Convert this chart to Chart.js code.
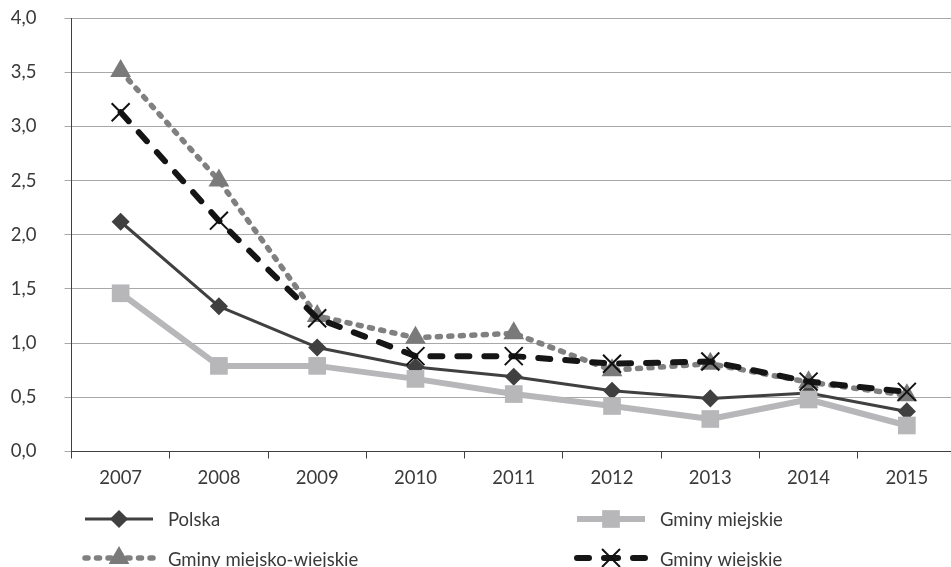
<!DOCTYPE html>
<html>
<head>
<meta charset="utf-8">
<script src="https://cdn.jsdelivr.net/npm/chart.js@4/dist/chart.umd.min.js"></script>
<style>
  html, body { margin: 0; padding: 0; overflow: hidden; background: #ffffff; }
  #wrap { position: relative; width: 958px; height: 567px; }
</style>
</head>
<body>
<div id="wrap"><canvas id="chart"></canvas></div>
<script>
// Years on the horizontal axis
const years = ['2007', '2008', '2009', '2010', '2011', '2012', '2013', '2014', '2015'];

// Series values
const polska = [2.12, 1.34, 0.96, 0.78, 0.69, 0.56, 0.49, 0.54, 0.37];
const gminyMiejskie = [1.46, 0.79, 0.79, 0.67, 0.53, 0.42, 0.30, 0.48, 0.24];
const gminyMiejskoWiejskie = [3.51, 2.50, 1.25, 1.05, 1.09, 0.75, 0.81, 0.64, 0.52];
const gminyWiejskie = [3.13, 2.13, 1.23, 0.88, 0.88, 0.81, 0.83, 0.645, 0.55];

// Series names
const seriesNames = ['Polska', 'Gminy miejskie', 'Gminy miejsko-wiejskie', 'Gminy wiejskie'];

// Value axis tick labels (Polish decimal comma)
const yTickLabels = ['0,0', '0,5', '1,0', '1,5', '2,0', '2,5', '3,0', '3,5', '4,0'];

const FONT = 'Lato';
const FONT_SIZE = 18.5;
const TEXT_COLOR = '#3a3a3a';
const GRID_COLOR = '#a8a8a8';
const AXIS_COLOR = '#404040';

function drawMarker(ctx, style, x, y, r, fill, stroke, bw) {
  ctx.save();
  ctx.setLineDash([]);
  ctx.fillStyle = fill;
  ctx.strokeStyle = stroke;
  ctx.lineWidth = bw;
  ctx.lineJoin = 'miter';
  ctx.beginPath();
  if (style === 'rectRot') {
    ctx.moveTo(x, y - r); ctx.lineTo(x + r, y); ctx.lineTo(x, y + r); ctx.lineTo(x - r, y);
    ctx.closePath(); ctx.fill(); if (bw) ctx.stroke();
  } else if (style === 'rect') {
    const s = r * Math.SQRT1_2;
    ctx.rect(x - s, y - s, 2 * s, 2 * s); ctx.fill(); if (bw) ctx.stroke();
  } else if (style === 'triangle') {
    ctx.moveTo(x, y - r); ctx.lineTo(x + 0.866 * r, y + 0.5 * r); ctx.lineTo(x - 0.866 * r, y + 0.5 * r);
    ctx.closePath(); ctx.fill(); if (bw) ctx.stroke();
  } else if (style === 'crossRot') {
    const s = r * Math.SQRT1_2;
    ctx.moveTo(x - s, y - s); ctx.lineTo(x + s, y + s);
    ctx.moveTo(x + s, y - s); ctx.lineTo(x - s, y + s);
    ctx.stroke();
  }
  ctx.restore();
}

// Two-column legend under the plot
const gridLegend = {
  id: 'gridLegend',
  afterDraw(chart) {
    const ctx = chart.ctx;
    const colX = [85, 577];
    const rowY = [519, 558];
    const rowBase = [526, 566];
    const sampleW = 68;
    chart.data.datasets.forEach((ds, i) => {
      const col = i % 2, row = Math.floor(i / 2);
      const x0 = colX[col], x1 = x0 + sampleW, cx = (x0 + x1) / 2, y = rowY[row];
      ctx.save();
      ctx.strokeStyle = ds.borderColor;
      ctx.lineWidth = ds.borderWidth;
      ctx.lineCap = ds.borderCapStyle || 'butt';
      ctx.setLineDash(ds.borderDash || []);
      ctx.beginPath(); ctx.moveTo(x0, y); ctx.lineTo(cx, y); ctx.stroke();
      ctx.beginPath(); ctx.moveTo(x1, y); ctx.lineTo(cx, y); ctx.stroke();
      ctx.restore();
      drawMarker(ctx, ds.pointStyle, cx, y, ds.pointRadius, ds.pointBackgroundColor, ds.pointBorderColor, ds.pointBorderWidth);
      ctx.save();
      ctx.fillStyle = TEXT_COLOR;
      ctx.font = FONT_SIZE + 'px ' + FONT;
      ctx.textBaseline = 'alphabetic';
      ctx.textAlign = 'left';
      ctx.fillText(ds.label, x1 + 15, rowBase[row]);
      ctx.restore();
    });
  }
};

const datasets = [
  {
    label: seriesNames[0], data: polska, order: 4,
    borderColor: '#404040', borderWidth: 3,
    pointStyle: 'rectRot', pointRadius: 8, pointBorderWidth: 1.5,
    pointBackgroundColor: '#404040', pointBorderColor: '#404040'
  },
  {
    label: seriesNames[1], data: gminyMiejskie, order: 3,
    borderColor: '#b7b7ba', borderWidth: 6,
    pointStyle: 'rect', pointRadius: 12.5, pointBorderWidth: 0,
    pointBackgroundColor: '#b7b7ba', pointBorderColor: '#b7b7ba'
  },
  {
    label: seriesNames[2], data: gminyMiejskoWiejskie, order: 2,
    borderColor: '#808080', borderWidth: 5.5, borderDash: [3, 8.5], borderCapStyle: 'round',
    pointStyle: 'triangle', pointRadius: 12, pointBorderWidth: 0,
    pointBackgroundColor: '#7a7a7a', pointBorderColor: '#7a7a7a'
  },
  {
    label: seriesNames[3], data: gminyWiejskie, order: 1,
    borderColor: '#151515', borderWidth: 6, borderDash: [12, 15], borderCapStyle: 'round',
    pointStyle: 'crossRot', pointRadius: 12.7, pointBorderWidth: 2,
    pointBackgroundColor: '#111111', pointBorderColor: '#111111'
  }
];
datasets.forEach(d => {
  d.fill = false; d.tension = 0; d.borderJoinStyle = 'round';
  d.pointHoverRadius = d.pointRadius;
  d.clip = false;
});

new Chart(document.getElementById('chart'), {
  type: 'line',
  data: { labels: years, datasets },
  plugins: [gridLegend],
  options: {
    responsive: true,
    maintainAspectRatio: false,
    animation: false,
    events: [],
    layout: { autoPadding: false, padding: { top: 18, right: 2, left: 0, bottom: 0 } },
    plugins: { legend: { display: false }, title: { display: false }, tooltip: { enabled: false } },
    scales: {
      x: {
        type: 'category',
        offset: true,
        afterFit(scale) { scale.height = 115.5; },
        grid: { offset: true, drawOnChartArea: false, drawTicks: true, tickLength: 7, color: AXIS_COLOR, lineWidth: 1 },
        border: { display: true, color: AXIS_COLOR, width: 1 },
        ticks: { color: TEXT_COLOR, font: { family: FONT, size: FONT_SIZE }, padding: 8, maxRotation: 0, autoSkip: false }
      },
      y: {
        min: 0, max: 4,
        afterFit(scale) {
          scale.width = 71.5;
          scale.paddingTop = 0;
          scale.paddingBottom = 0;
        },
        grid: {
          color: (c) => (c.tick && c.tick.value === 0 ? 'rgba(0,0,0,0)' : GRID_COLOR),
          tickColor: GRID_COLOR, tickLength: 7, lineWidth: 1
        },
        border: { display: true, color: AXIS_COLOR, width: 1 },
        ticks: {
          stepSize: 0.5, color: TEXT_COLOR, font: { family: FONT, size: FONT_SIZE }, padding: 28,
          callback: (v, i) => yTickLabels[i]
        }
      }
    }
  }
});
</script>
</body>
</html>
